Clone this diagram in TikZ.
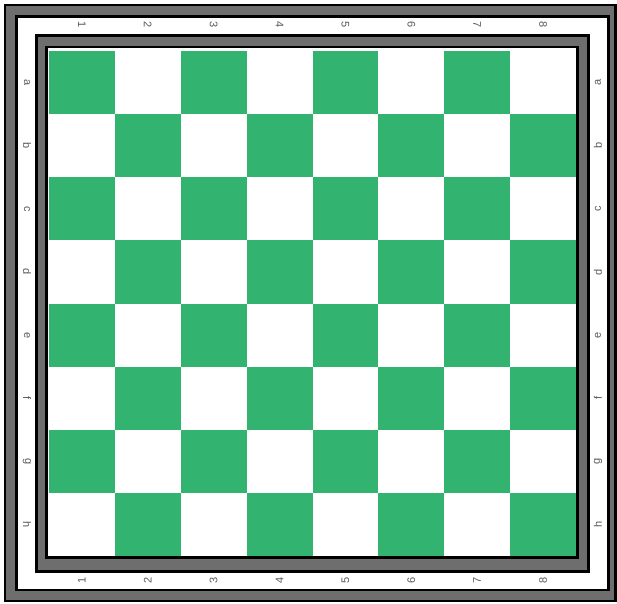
\documentclass[tikz,border=0pt]{standalone}
\usepackage{fontspec}
\setmainfont{Liberation Sans}
\definecolor{sqgreen}{RGB}{50,180,112}
\definecolor{framegray}{RGB}{110,110,110}
\definecolor{labelgray}{RGB}{90,90,90}
\begin{document}
\begin{tikzpicture}[x=1pt,y=-1pt,
  frame/.style={fill=framegray,draw=black,line width=2.6pt},
  gap/.style={fill=white,draw=black,line width=2.6pt},
  greensq/.style={fill=sqgreen,draw=none},
  lbl/.style={font=\fontsize{11}{11}\selectfont,text=labelgray,inner sep=0pt}]
\useasboundingbox (0,0) rectangle (617,603);
% outer frame
\filldraw[frame] (4.8,4.8) rectangle (615.2,600.8);
\filldraw[gap] (16.7,16.7) rectangle (608.3,589.8);
% inner frame
\filldraw[frame] (36.3,35.3) rectangle (588.7,571.7);
\filldraw[gap] (46.3,46.8) rectangle (577.3,557.3);
% board
\foreach \c in {0,...,7}{
  \foreach \r in {0,...,7}{
    \pgfmathparse{int(mod(\c+\r,2))}
    \ifnum\pgfmathresult=0
      \fill[greensq] ({49+65.875*\c},{51+63.125*\r}) rectangle ({49+65.875*(\c+1)},{51+63.125*(\r+1)});
    \fi
  }
}
% labels
\foreach \n [count=\i from 0] in {1,...,8}{
  \node[lbl,rotate=-90] (t\n) at ({49+65.875*(\i+0.5)},25) {\n};
  \node[lbl,rotate=90] (b\n) at ({49+65.875*(\i+0.5)},580) {\n};
}
\foreach \l [count=\j from 0] in {a,b,c,d,e,f,g,h}{
  \node[lbl,rotate=-90] (l\l) at (27,{51+63.125*(\j+0.5)}) {\l};
  \node[lbl,rotate=90] (r\l) at (598,{51+63.125*(\j+0.5)}) {\l};
}
\end{tikzpicture}
\end{document}
